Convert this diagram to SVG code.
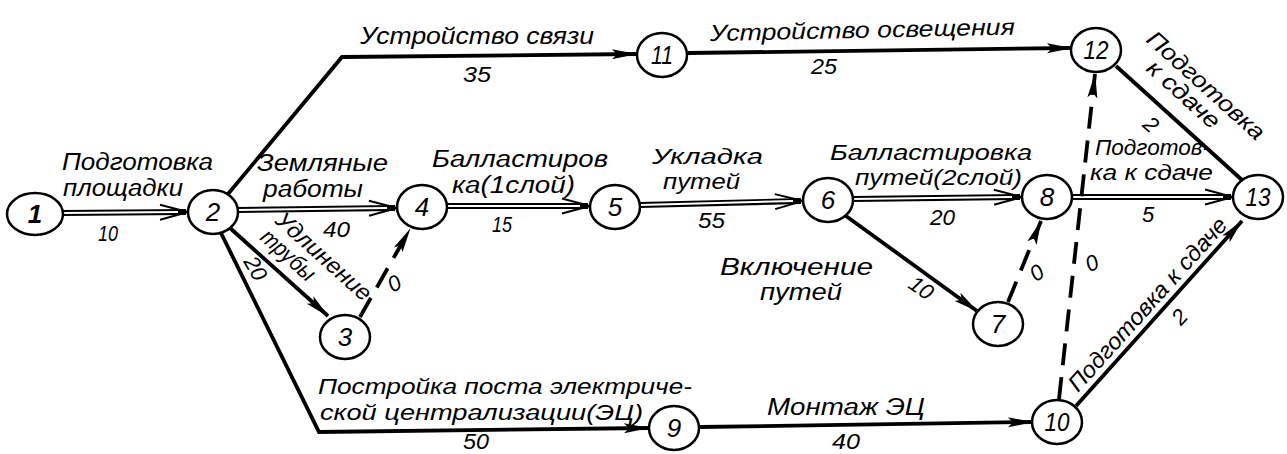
<svg xmlns="http://www.w3.org/2000/svg" width="1287" height="454" viewBox="0 0 1287 454">
<defs>
<style>
.bg{fill:#fff}
.thick{fill:none;stroke:#000;stroke-width:3.8}
.dash{fill:none;stroke:#000;stroke-width:3.8;stroke-dasharray:22 12}
.dblo{fill:none;stroke:#000;stroke-width:6}
.dbli{fill:none;stroke:#fff;stroke-width:2}
.node ellipse{fill:#fff;stroke:#000;stroke-width:2.5}
.node text{font-family:"Liberation Sans",sans-serif;font-style:italic;font-size:26px;text-anchor:middle;fill:#000}
.lbl{font-family:"Liberation Sans",sans-serif;font-style:italic;font-size:23px;fill:#000}
.t{font-size:22px}
.num{font-size:22px}
.mid{text-anchor:middle}
</style>
<marker id="fa" markerUnits="userSpaceOnUse" markerWidth="28" markerHeight="14" refX="24" refY="7" orient="auto" overflow="visible">
<path d="M0,2 L25,7 L0,12 L5,7 z" fill="#000"/>
</marker>
<marker id="oa" markerUnits="userSpaceOnUse" markerWidth="32" markerHeight="22" refX="26" refY="11" orient="auto" overflow="visible">
<path d="M0,3.5 L28,11 L0,18.5" fill="none" stroke="#000" stroke-width="2"/>
</marker>
</defs>
<rect class="bg" x="0" y="0" width="1287" height="454"/>

<g id="connectors">
<g id="e1-2"><path class="dblo" d="M62,213 L186,212" marker-end="url(#oa)"/><path class="dbli" d="M62,213 L178,212"/></g>
<g id="e2-4"><path class="dblo" d="M238,210 L395,208" marker-end="url(#oa)"/><path class="dbli" d="M238,210 L387,208"/></g>
<g id="e4-5"><path class="dblo" d="M447,206 L588,206" marker-end="url(#oa)"/><path class="dbli" d="M447,206 L580,206"/></g>
<g id="e5-6"><path class="dblo" d="M640,205 L801,201" marker-end="url(#oa)"/><path class="dbli" d="M640,205 L793,201"/></g>
<g id="e6-8"><path class="dblo" d="M853,199 L1020,197" marker-end="url(#oa)"/><path class="dbli" d="M853,199 L1012,197"/></g>
<g id="e8-13"><path class="dblo" d="M1072,197 L1231,197" marker-end="url(#oa)"/><path class="dbli" d="M1072,197 L1223,197"/></g>
<path id="e2-11" class="thick" d="M228,194 L342,57 L636,54" marker-end="url(#fa)"/>
<path id="e11-12" class="thick" d="M688,53 L1071,48" marker-end="url(#fa)"/>
<path id="e12-13" class="thick" d="M1116,66 L1242,180"/>
<path id="e2-3" class="thick" d="M230,228 L328,316" marker-end="url(#fa)"/>
<path id="e2-9" class="thick" d="M221,233 L319,432 L648,428" marker-end="url(#fa)"/>
<path id="e9-10" class="thick" d="M700,427 L1032,422" marker-end="url(#fa)"/>
<path id="e10-13" class="thick" d="M1076,406 L1242,221" marker-end="url(#fa)"/>
<path id="e6-7" class="thick" d="M846,216 L977,311" marker-end="url(#fa)"/>
<path id="e3-4" class="dash" d="M360,317 L410,229" marker-end="url(#fa)"/>
<path id="e7-8" class="dash" d="M1008,302 L1041,221" marker-end="url(#fa)"/>
<path id="e10-12" class="dash" d="M1059,399 L1095,74" marker-end="url(#fa)"/>
</g>

<g id="n1" class="node"><ellipse cx="35" cy="214" rx="28" ry="21"/><text x="35" y="223" font-weight="bold">1</text></g>
<g id="n2" class="node"><ellipse cx="213" cy="212" rx="25" ry="22"/><text x="213" y="221">2</text></g>
<g id="n3" class="node"><ellipse cx="345" cy="337" rx="25" ry="22"/><text x="345" y="346">3</text></g>
<g id="n4" class="node"><ellipse cx="422" cy="207" rx="25" ry="22"/><text x="422" y="216">4</text></g>
<g id="n5" class="node"><ellipse cx="615" cy="207" rx="25" ry="22"/><text x="615" y="216">5</text></g>
<g id="n6" class="node"><ellipse cx="828" cy="200" rx="25" ry="22"/><text x="828" y="209">6</text></g>
<g id="n7" class="node"><ellipse cx="998" cy="324" rx="25" ry="22"/><text x="998" y="333">7</text></g>
<g id="n8" class="node"><ellipse cx="1047" cy="197" rx="25" ry="22"/><text x="1047" y="206">8</text></g>
<g id="n9" class="node"><ellipse cx="674" cy="428" rx="25" ry="22"/><text x="674" y="437">9</text></g>
<g id="n10" class="node"><ellipse cx="1057" cy="422" rx="25" ry="22"/><text x="1057" y="431" textLength="25" lengthAdjust="spacingAndGlyphs">10</text></g>
<g id="n11" class="node"><ellipse cx="662" cy="55" rx="25" ry="22"/><text x="662" y="64" textLength="22" lengthAdjust="spacingAndGlyphs">11</text></g>
<g id="n12" class="node"><ellipse cx="1096" cy="50" rx="25" ry="22"/><text x="1096" y="59" textLength="25" lengthAdjust="spacingAndGlyphs">12</text></g>
<g id="n13" class="node"><ellipse cx="1258" cy="197" rx="25" ry="22"/><text x="1258" y="206" textLength="25" lengthAdjust="spacingAndGlyphs">13</text></g>

<g id="labels">
<text class="lbl" x="62" y="170" textLength="151" lengthAdjust="spacingAndGlyphs">Подготовка</text>
<text class="lbl" x="63" y="196" textLength="120" lengthAdjust="spacingAndGlyphs">площадки</text>
<text class="lbl num" x="98" y="241" textLength="20" lengthAdjust="spacingAndGlyphs">10</text>

<text class="lbl" x="360" y="44" textLength="234" lengthAdjust="spacingAndGlyphs">Устройство связи</text>
<text class="lbl num" x="463" y="82" textLength="28" lengthAdjust="spacingAndGlyphs">35</text>
<text class="lbl" x="710" y="41" textLength="305" lengthAdjust="spacingAndGlyphs" transform="rotate(-1.2 710 41)">Устройство освещения</text>
<text class="lbl num" x="811" y="74" textLength="26" lengthAdjust="spacingAndGlyphs">25</text>

<text class="lbl" x="257" y="171" textLength="131" lengthAdjust="spacingAndGlyphs">Земляные</text>
<text class="lbl" x="263" y="197" textLength="100" lengthAdjust="spacingAndGlyphs">работы</text>
<text class="lbl num" x="323" y="237" textLength="27" lengthAdjust="spacingAndGlyphs">40</text>

<text class="lbl" x="274" y="222" textLength="120" lengthAdjust="spacingAndGlyphs" transform="rotate(42 274 222)">Удлинение</text>
<text class="lbl" x="259" y="239" textLength="65" lengthAdjust="spacingAndGlyphs" transform="rotate(42 259 239)">трубы</text>
<text class="lbl num mid" x="249" y="272" transform="rotate(60 249 272)">20</text>
<text class="lbl num mid" x="398" y="290" transform="rotate(-30 398 290)">0</text>

<text class="lbl" x="432" y="167" textLength="176" lengthAdjust="spacingAndGlyphs">Балластиров</text>
<text class="lbl" x="452" y="193" textLength="123" lengthAdjust="spacingAndGlyphs">ка(1слой)</text>
<text class="lbl num" x="492" y="232" textLength="20" lengthAdjust="spacingAndGlyphs">15</text>

<text class="lbl t" x="652" y="164" textLength="111" lengthAdjust="spacingAndGlyphs">Укладка</text>
<text class="lbl t" x="663" y="189" textLength="77" lengthAdjust="spacingAndGlyphs">путей</text>
<text class="lbl num" x="698" y="228" textLength="27" lengthAdjust="spacingAndGlyphs">55</text>

<text class="lbl t" x="830" y="160" textLength="202" lengthAdjust="spacingAndGlyphs">Балластировка</text>
<text class="lbl t" x="855" y="185" textLength="167" lengthAdjust="spacingAndGlyphs">путей(2слой)</text>
<text class="lbl num" x="930" y="225" textLength="25" lengthAdjust="spacingAndGlyphs">20</text>

<text class="lbl" x="720" y="275" textLength="153" lengthAdjust="spacingAndGlyphs">Включение</text>
<text class="lbl" x="760" y="300" textLength="82" lengthAdjust="spacingAndGlyphs">путей</text>
<text class="lbl num mid" x="917" y="294" transform="rotate(35 917 294)">10</text>
<text class="lbl num mid" x="1041" y="279" transform="rotate(-35 1041 279)">0</text>
<text class="lbl num mid" x="1095" y="270" transform="rotate(-25 1095 270)">0</text>

<text class="lbl t" x="1095" y="155" textLength="115" lengthAdjust="spacingAndGlyphs">Подготов-</text>
<text class="lbl t" x="1090" y="180" textLength="123" lengthAdjust="spacingAndGlyphs">ка к сдаче</text>
<text class="lbl num" x="1142" y="222">5</text>

<text class="lbl" x="1145" y="41" textLength="150" lengthAdjust="spacingAndGlyphs" transform="rotate(42 1145 41)">Подготовка</text>
<text class="lbl" x="1145" y="70" textLength="90" lengthAdjust="spacingAndGlyphs" transform="rotate(42 1145 70)">к сдаче</text>
<text class="lbl num mid" x="1146" y="130" transform="rotate(42 1146 130)">2</text>

<text class="lbl" x="1078" y="393" textLength="225" lengthAdjust="spacingAndGlyphs" transform="rotate(-48 1078 393)">Подготовка к сдаче</text>
<text class="lbl num mid" x="1185" y="322" transform="rotate(-48 1185 322)">2</text>

<text class="lbl t" x="318" y="394" textLength="374" lengthAdjust="spacingAndGlyphs">Постройка поста электриче-</text>
<text class="lbl t" x="320" y="420" textLength="323" lengthAdjust="spacingAndGlyphs">ской централизации(ЭЦ)</text>
<text class="lbl num" x="463" y="449" textLength="26" lengthAdjust="spacingAndGlyphs">50</text>

<text class="lbl" x="767" y="415" textLength="158" lengthAdjust="spacingAndGlyphs">Монтаж ЭЦ</text>
<text class="lbl num" x="832" y="449" textLength="28" lengthAdjust="spacingAndGlyphs">40</text>
</g>
</svg>
